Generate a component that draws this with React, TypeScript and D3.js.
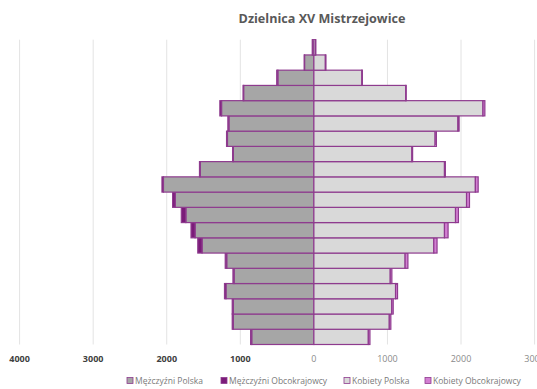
import React from "react";
import * as d3 from "d3";

const ageGroups = ["0-4","5-9","10-14","15-19","20-24","25-29","30-34","35-39","40-44","45-49","50-54","55-59","60-64","65-69","70-74","75-79","80-84","85-89","90-94","95+"];
const menPolska = [845,1095,1095,1195,1085,1185,1520,1615,1740,1885,2045,1545,1095,1175,1155,1255,955,490,127,18];
const menForeign = [15,15,15,20,15,20,58,55,62,35,20,10,10,12,14,23,8,15,5,4];
const womenPolska = [740,1025,1058,1110,1038,1240,1630,1775,1925,2075,2195,1775,1332,1648,1958,2298,1248,652,156,22];
const womenForeign = [22,21,20,27,22,38,44,49,40,40,38,12,10,17,16,26,7,7,8,4];
const tickValues = [-4000,-3000,-2000,-1000,0,1000,2000,3000];
const legendLabels = ["Mężczyźni Polska","Mężczyźni Obcokrajowcy","Kobiety Polska","Kobiety Obcokrajowcy"];

const W = 537, H = 389;
const STROKE = "#8e3b8e";
const colors = ["#a6a6a6", "#7b1b79", "#d9d9d9", "#d27fd2"];

export default function App() {
  const x = d3.scaleLinear().domain([-4000, 3000]).range([19.6, 534.6]);
  const y = d3.scaleBand<string>().domain([...ageGroups].reverse()).range([39.7, 344.5]).padding(0);
  const top = 39.7, bottom = 344.5;
  const font = "'Open Sans', 'Liberation Sans', sans-serif";
  const legendX = [130, 224, 347, 428];

  return (
    <svg width={W} height={H} style={{ position: "absolute", left: 0, top: 0, background: "#fff" }} fontFamily={font}>
      <text x={322} y={23} textAnchor="middle" fontSize={12.6} fontWeight={700} fill="#595959">Dzielnica XV Mistrzejowice</text>
      {tickValues.map((t) => (
        <line key={"g" + t} x1={x(t)} x2={x(t)} y1={top} y2={bottom} stroke={t === 0 ? "none" : "#e3e3e3"} strokeWidth={1} />
      ))}
      {ageGroups.map((a, i) => {
        const yy = y(a)!;
        const h = y.bandwidth();
        const mp = menPolska[i], mf = menForeign[i], wp = womenPolska[i], wf = womenForeign[i];
        return (
          <g key={a}>
            <rect x={x(-mp)} y={yy} width={x(0) - x(-mp)} height={h} fill={colors[0]} stroke={STROKE} strokeWidth={1.2} />
            <rect x={x(-mp - mf)} y={yy} width={x(-mp) - x(-mp - mf)} height={h} fill={colors[1]} stroke={STROKE} strokeWidth={1.2} />
            <rect x={x(0)} y={yy} width={x(wp) - x(0)} height={h} fill={colors[2]} stroke={STROKE} strokeWidth={1.2} />
            <rect x={x(wp)} y={yy} width={x(wp + wf) - x(wp)} height={h} fill={colors[3]} stroke={STROKE} strokeWidth={1.2} />
          </g>
        );
      })}
      {tickValues.map((t) => (
        <text key={"t" + t} x={x(t)} y={362} textAnchor="middle" fontSize={9}
          fontWeight={t < 0 ? 700 : 400} fill={t < 0 ? "#404040" : "#8a8a8a"}>
          {Math.abs(t)}
        </text>
      ))}
      {legendLabels.map((l, i) => (
        <g key={l} transform={`translate(${legendX[i]},381)`}>
          <rect x={-3} y={-3.5} width={6} height={6} fill={colors[i]} stroke={STROKE} strokeWidth={0.8} />
          <text x={5} y={3} fontSize={8.5} fill="#7a7a7a">{l}</text>
        </g>
      ))}
    </svg>
  );
}
